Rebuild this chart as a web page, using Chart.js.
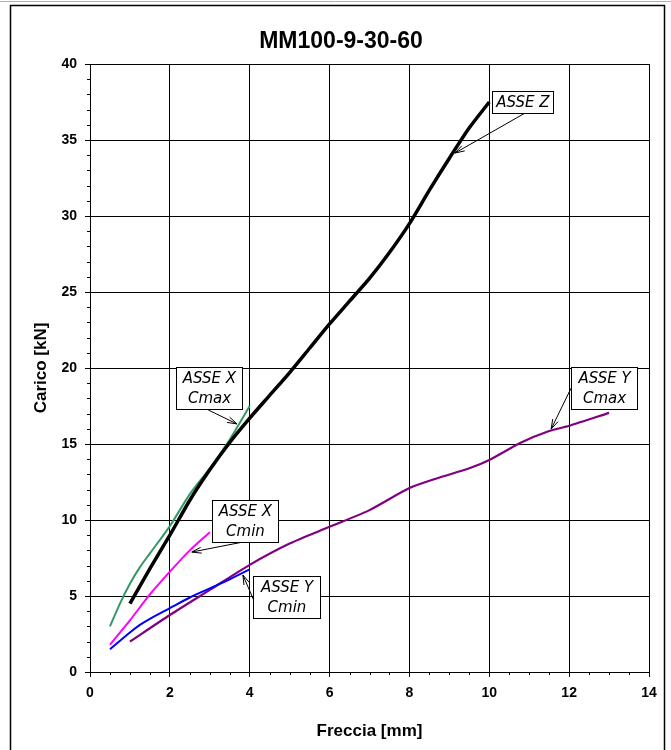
<!DOCTYPE html>
<html><head><meta charset="utf-8">
<script src="https://cdn.jsdelivr.net/npm/chart.js@4.4.0/dist/chart.umd.min.js"></script>
<style>html,body{margin:0;padding:0;background:#fff;}#wrap{width:671px;height:750px;}</style>
</head><body><div id="wrap"><canvas id="c" width="671" height="750"></canvas></div>
<script>
// ---- data ----
const chartTitle = "MM100-9-30-60";
const xTitle = "Freccia [mm]";
const yTitle = "Carico [kN]";
const xTickVals = [0, 2, 4, 6, 8, 10, 12, 14];
const yTickVals = [0, 5, 10, 15, 20, 25, 30, 35, 40];

const zX = [1, 1.5, 2, 2.5, 3, 3.5, 4, 4.5, 5, 5.5, 6, 6.5, 7, 7.5, 8, 8.5, 9, 9.5, 10];
const zY = [4.5, 6.8, 9.0, 11.3, 13.3, 15.1, 16.7, 18.2, 19.7, 21.3, 22.9, 24.4, 25.9, 27.6, 29.5, 31.7, 33.8, 35.8, 37.5];

const xCmaxX = [0.5, 0.75, 1, 1.25, 1.5, 2, 2.5, 3, 3.5, 4];
const xCmaxY = [3.0, 4.5, 5.8, 6.9, 7.8, 9.6, 11.7, 13.4, 15.3, 17.5];

const xCminX = [0.5, 1, 1.5, 2, 2.5, 3];
const xCminY = [1.8, 3.4, 5.1, 6.6, 8.0, 9.2];

const yCminX = [0.5, 1, 1.25, 1.5, 2, 2.5, 3, 3.5, 4];
const yCminY = [1.5, 2.6, 3.1, 3.5, 4.2, 4.9, 5.5, 6.1, 6.75];

const yCmaxX = [1, 2, 3, 4, 5, 6, 7, 8, 8.7, 9.5, 10, 10.8, 11.5, 12, 13];
const yCmaxY = [2.0, 3.75, 5.4, 7.05, 8.45, 9.55, 10.65, 12.1, 12.75, 13.4, 13.95, 15.1, 15.85, 16.2, 17.05];

// annotations (text, box corners and arrow in data units)
const annTexts = [["ASSE Z"], ["ASSE X", "Cmax"], ["ASSE X", "Cmin"], ["ASSE Y", "Cmin"], ["ASSE Y", "Cmax"]];
const annBoxes = [[10.07, 38.22, 11.6, 36.78], [2.15, 20.07, 3.81, 17.30], [3.06, 11.32, 4.71, 8.55], [4.08, 6.32, 5.76, 3.55], [12.05, 20.07, 13.7, 17.30]];
const annArrows = [[10.94, 36.84, 9.14, 34.14], [2.96, 17.24, 3.68, 16.32], [3.83, 8.55, 2.55, 7.89], [4.12, 4.6, 3.83, 6.38], [12.05, 18.68, 11.55, 15.99]];

const pts = (xs, ys) => xs.map((x, i) => ({x: x, y: ys[i]}));

const framePlugin = {
  id: 'frame',
  beforeDraw(chart) {
    const ctx = chart.ctx;
    ctx.save();
    ctx.fillStyle = '#fff';
    ctx.fillRect(0, 0, chart.width, chart.height);
    ctx.strokeStyle = '#b0b0b0';
    ctx.lineWidth = 1;
    ctx.beginPath(); ctx.moveTo(0, 1.5); ctx.lineTo(chart.width, 1.5); ctx.stroke();
    ctx.strokeStyle = '#000';
    ctx.lineWidth = 1.5;
    ctx.strokeRect(10.5, 5.5, 654, 800);
    ctx.restore();
  }
};

const minorPlugin = {
  id: 'minor',
  afterDraw(chart) {
    const ctx = chart.ctx, xs = chart.scales.x, ys = chart.scales.y;
    ctx.save();
    ctx.strokeStyle = '#000';
    ctx.lineWidth = 1;
    ctx.beginPath();
    for (let v = 1; v < 40; v++) {
      if (v % 5 === 0) continue;
      const p = Math.round(ys.getPixelForValue(v)) + 0.5;
      ctx.moveTo(xs.left - 3, p); ctx.lineTo(xs.left, p);
    }
    for (let v = 0.5; v < 14; v += 0.5) {
      if (v % 2 === 0) continue;
      const p = Math.round(xs.getPixelForValue(v)) + 0.5;
      ctx.moveTo(p, ys.bottom); ctx.lineTo(p, ys.bottom + 3);
    }
    ctx.stroke();
    ctx.restore();
  }
};

const annPlugin = {
  id: 'ann',
  afterDatasetsDraw(chart) {
    const ctx = chart.ctx, xs = chart.scales.x, ys = chart.scales.y;
    ctx.save();
    for (let i = 0; i < annTexts.length; i++) {
      const b = annBoxes[i];
      const x1 = Math.round(xs.getPixelForValue(b[0])) + 0.5, y1 = Math.round(ys.getPixelForValue(b[1])) + 0.5;
      const x2 = Math.round(xs.getPixelForValue(b[2])) + 0.5, y2 = Math.round(ys.getPixelForValue(b[3])) + 0.5;
      const a = annArrows[i];
      const ax1 = xs.getPixelForValue(a[0]), ay1 = ys.getPixelForValue(a[1]);
      const ax2 = xs.getPixelForValue(a[2]), ay2 = ys.getPixelForValue(a[3]);
      ctx.strokeStyle = '#000';
      ctx.lineWidth = 1;
      ctx.beginPath(); ctx.moveTo(ax1, ay1); ctx.lineTo(ax2, ay2); ctx.stroke();
      const ang = Math.atan2(ay2 - ay1, ax2 - ax1), L = 10, w = 0.3;
      ctx.beginPath();
      ctx.moveTo(ax2 - L * Math.cos(ang - w), ay2 - L * Math.sin(ang - w));
      ctx.lineTo(ax2, ay2);
      ctx.lineTo(ax2 - L * Math.cos(ang + w), ay2 - L * Math.sin(ang + w));
      ctx.stroke();
      ctx.fillStyle = '#fff';
      ctx.fillRect(x1, y1, x2 - x1, y2 - y1);
      ctx.strokeRect(x1, y1, x2 - x1, y2 - y1);
      ctx.fillStyle = '#000';
      ctx.font = 'italic 15px "DejaVu Sans"';
      ctx.textAlign = 'center';
      ctx.textBaseline = 'middle';
      const lines = annTexts[i], cx = (x1 + x2) / 2, cy = (y1 + y2) / 2, lh = 20;
      lines.forEach((t, k) => ctx.fillText(t, cx, cy + 1 + (k - (lines.length - 1) / 2) * lh));
    }
    ctx.restore();
  }
};

const common = {pointRadius: 0, pointHoverRadius: 0, fill: false, tension: 0.25, borderCapStyle: 'butt'};

new Chart(document.getElementById('c'), {
  type: 'line',
  data: {
    datasets: [
      Object.assign({label: 'ASSE Y Cmin', data: pts(yCminX, yCminY), borderColor: '#0000ff', borderWidth: 2}, common),
      Object.assign({label: 'ASSE X Cmin', data: pts(xCminX, xCminY), borderColor: '#ff00ff', borderWidth: 2}, common),
      Object.assign({label: 'ASSE Z', data: pts(zX, zY), borderColor: '#000000', borderWidth: 3.5}, common),
      Object.assign({label: 'ASSE X Cmax', data: pts(xCmaxX, xCmaxY), borderColor: '#339966', borderWidth: 2}, common),
      Object.assign({label: 'ASSE Y Cmax', data: pts(yCmaxX, yCmaxY), borderColor: '#800080', borderWidth: 2.2}, common)
    ]
  },
  options: {
    responsive: false,
    animation: false,
    events: [],
    layout: {padding: {left: 33, right: 22, top: 0, bottom: 0}},
    plugins: {
      legend: {display: false},
      tooltip: {enabled: false},
      title: {
        display: true, text: chartTitle, color: '#000',
        font: {family: 'Liberation Sans', size: 23, weight: 'bold', lineHeight: 1.2},
        padding: {top: 28, bottom: 8.4}
      }
    },
    scales: {
      x: {
        type: 'linear', min: 0, max: 14,
        afterBuildTicks(s) { s.ticks = xTickVals.map(v => ({value: v})); },
        afterFit(s) { s.height = 78; },
        grid: {color: '#000', lineWidth: 1, tickLength: 5, drawTicks: true},
        border: {display: true, color: '#000', width: 1},
        ticks: {color: '#000', padding: 8, maxRotation: 0, font: {family: 'Liberation Sans', size: 14, weight: 'bold'}},
        title: {display: true, text: xTitle, color: '#000', padding: {top: 0, bottom: 8}, font: {family: 'Liberation Sans', size: 17, weight: 'bold', lineHeight: 1.2}}
      },
      y: {
        type: 'linear', min: 0, max: 40,
        afterBuildTicks(s) { s.ticks = yTickVals.map(v => ({value: v})); },
        afterFit(s) { s.width = 57; },
        grid: {color: '#000', lineWidth: 1, tickLength: 5, drawTicks: true},
        border: {display: true, color: '#000', width: 1},
        ticks: {color: '#000', padding: 8, font: {family: 'Liberation Sans', size: 14, weight: 'bold'}},
        title: {display: true, text: yTitle, color: '#000', padding: {top: 0, bottom: 0}, font: {family: 'Liberation Sans', size: 17, weight: 'bold', lineHeight: 1.0}}
      }
    }
  },
  plugins: [framePlugin, minorPlugin, annPlugin]
});
</script>
</body></html>
